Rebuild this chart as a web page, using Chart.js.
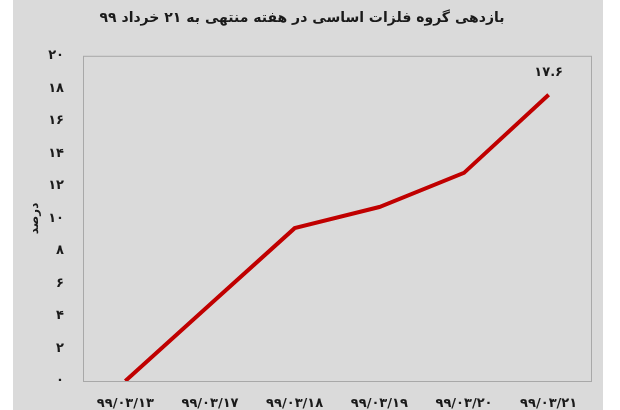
<!DOCTYPE html>
<html>
<head>
<meta charset="utf-8">
<script src="https://cdn.jsdelivr.net/npm/chart.js@4/dist/chart.umd.min.js"></script>
<style>
    html, body { margin: 0; padding: 0; background: #ffffff; }
    #wrap { position: absolute; left: 13px; top: 0; width: 590px; height: 410px; background: #dadada; }
</style>
</head>
<body>
<div id="wrap"><canvas id="metalsChart" width="590" height="410"></canvas></div>
<script>
// weekly return of base metals group (percent)
const dates = ['۹۹/۰۳/۱۳', '۹۹/۰۳/۱۷', '۹۹/۰۳/۱۸', '۹۹/۰۳/۱۹', '۹۹/۰۳/۲۰', '۹۹/۰۳/۲۱'];
const returns = [0, 4.7, 9.4, 10.7, 12.8, 17.6];
const lastLabel = '۱۷.۶';
const yTicks = ['۰', '۲', '۴', '۶', '۸', '۱۰', '۱۲', '۱۴', '۱۶', '۱۸', '۲۰'];

const fontFamily = '"DejaVu Sans", sans-serif';

// full frame round the plot area + value label on last point
const framePlugin = {
    id: 'frame',
    afterDraw(chart) {
        const { ctx, chartArea } = chart;
        ctx.save();
        ctx.strokeStyle = '#a8a8a8';
        ctx.lineWidth = 1;
        ctx.strokeRect(chartArea.left + 0.5, chartArea.top + 0.5,
            chartArea.right - chartArea.left, chartArea.bottom - chartArea.top);

        const pt = chart.getDatasetMeta(0).data[returns.length - 1];
        ctx.fillStyle = '#1a1a1a';
        ctx.font = 'bold 13px ' + fontFamily;
        ctx.textAlign = 'center';
        ctx.textBaseline = 'middle';
        ctx.fillText(lastLabel, pt.x, pt.y - 22);
        ctx.restore();
    }
};

new Chart(document.getElementById('metalsChart'), {
    type: 'line',
    data: {
        labels: dates,
        datasets: [{
            data: returns,
            borderColor: '#c00000',
            borderWidth: 4,
            pointRadius: 0,
            tension: 0,
        }]
    },
    options: {
        responsive: false,
        animation: false,
        layout: { padding: { left: 0, right: 12, top: 0, bottom: 0 } },
        plugins: {
            legend: { display: false },
            tooltip: { enabled: false },
            title: {
                display: true,
                text: 'بازدهی گروه فلزات اساسی در هفته منتهی به ۲۱ خرداد ۹۹',
                color: '#1a1a1a',
                font: { family: fontFamily, size: 14, weight: 'bold' },
                padding: { top: 10, bottom: 29 },
            },
        },
        scales: {
            x: {
                offset: true,
                grid: { display: false },
                border: { display: false },
                ticks: {
                    color: '#1a1a1a',
                    padding: 7,
                    maxRotation: 0,
                    font: { family: fontFamily, size: 13, weight: 'bold' },
                },
                afterFit(scale) { scale.height = 29; },
            },
            y: {
                min: 0,
                max: 20,
                grid: { display: false },
                border: { display: false },
                title: {
                    display: true,
                    text: 'درصد',
                    color: '#1a1a1a',
                    padding: { top: 15, bottom: 0 },
                    font: { family: fontFamily, size: 12, weight: 'bold' },
                },
                ticks: {
                    stepSize: 2,
                    color: '#1a1a1a',
                    padding: 11,
                    font: { family: fontFamily, size: 13, weight: 'bold' },
                    callback: (v, i) => yTicks[i],
                },
                afterFit(scale) { scale.width = 70; },
            },
        },
    },
    plugins: [framePlugin],
});
</script>
</body>
</html>
